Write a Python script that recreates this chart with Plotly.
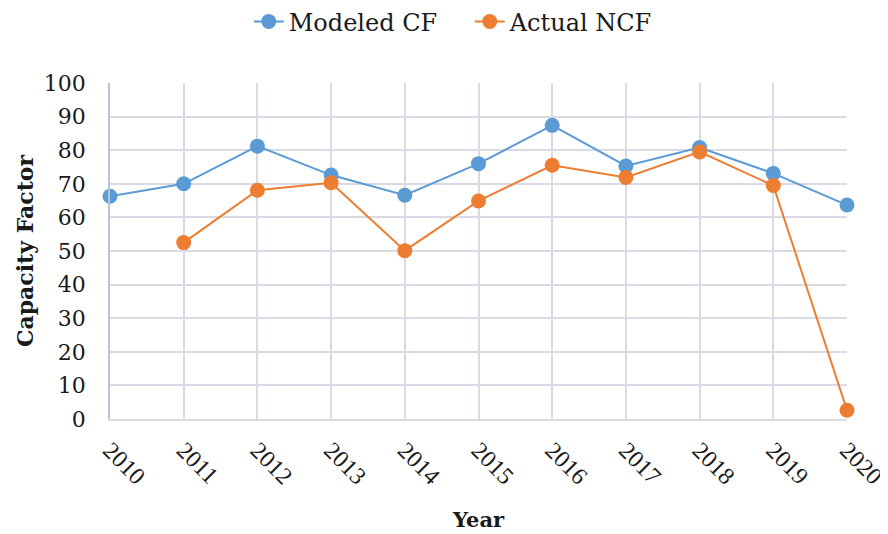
import plotly.graph_objects as go

years = [2010, 2011, 2012, 2013, 2014, 2015, 2016, 2017, 2018, 2019, 2020]
modeled_cf = [66.3, 70.0, 81.2, 72.6, 66.6, 76.0, 87.4, 75.3, 80.8, 73.1, 63.7]
actual_ncf = [None, 52.5, 68.1, 70.3, 50.1, 64.9, 75.5, 71.9, 79.5, 69.5, 2.6]
y_ticks = [0, 10, 20, 30, 40, 50, 60, 70, 80, 90, 100]

BLUE = "#5B9BD5"
ORANGE = "#ED7D31"
SERIF = "DejaVu Serif"
TIMES = "Liberation Serif"
GRID = "#d9dae6"

fig = go.Figure()
fig.add_trace(go.Scatter(x=years, y=modeled_cf, name="Modeled CF", mode="lines+markers",
                         line=dict(color=BLUE, width=2), marker=dict(color=BLUE, size=15),
                         cliponaxis=False))
fig.add_trace(go.Scatter(x=years, y=actual_ncf, name="Actual NCF", mode="lines+markers",
                         line=dict(color=ORANGE, width=2), marker=dict(color=ORANGE, size=15),
                         cliponaxis=False, connectgaps=False))

fig.update_layout(
    width=888, height=534,
    margin=dict(l=102, r=49, t=75, b=123),
    paper_bgcolor="white", plot_bgcolor="white",
    font=dict(family=SERIF, color="#1a1a1a", size=21),
    legend=dict(orientation="h", x=0.52, xref="container", xanchor="center",
                yref="container", y=0.974, yanchor="middle",
                font=dict(size=24, family=SERIF), entrywidth=176,
                traceorder="normal"),
    xaxis=dict(range=[2010, 2020], tickmode="array", tickvals=years,
               ticktext=[str(y) for y in years], tickangle=45, automargin=False,
               showgrid=True, gridcolor=GRID, gridwidth=1.5,
               showline=True, linecolor=GRID, linewidth=1.5,
               zeroline=False, ticks="", tickfont=dict(size=24, family=TIMES),
               ticklabelstandoff=6,
               title=dict(text="<b>Year</b>", font=dict(size=21, family=SERIF), standoff=24)),
    yaxis=dict(range=[0, 100], tickmode="array", tickvals=y_ticks, automargin=False,
               showgrid=True, gridcolor=GRID, gridwidth=1.5,
               showline=True, linecolor="#b8c4da", linewidth=1.5,
               zeroline=False, ticks="", tickfont=dict(size=22, family=SERIF),
               ticklabelstandoff=18,
               title=dict(text="<b>Capacity Factor</b>", font=dict(size=22, family=SERIF), standoff=4)),
)

fig.write_html("out.html")
